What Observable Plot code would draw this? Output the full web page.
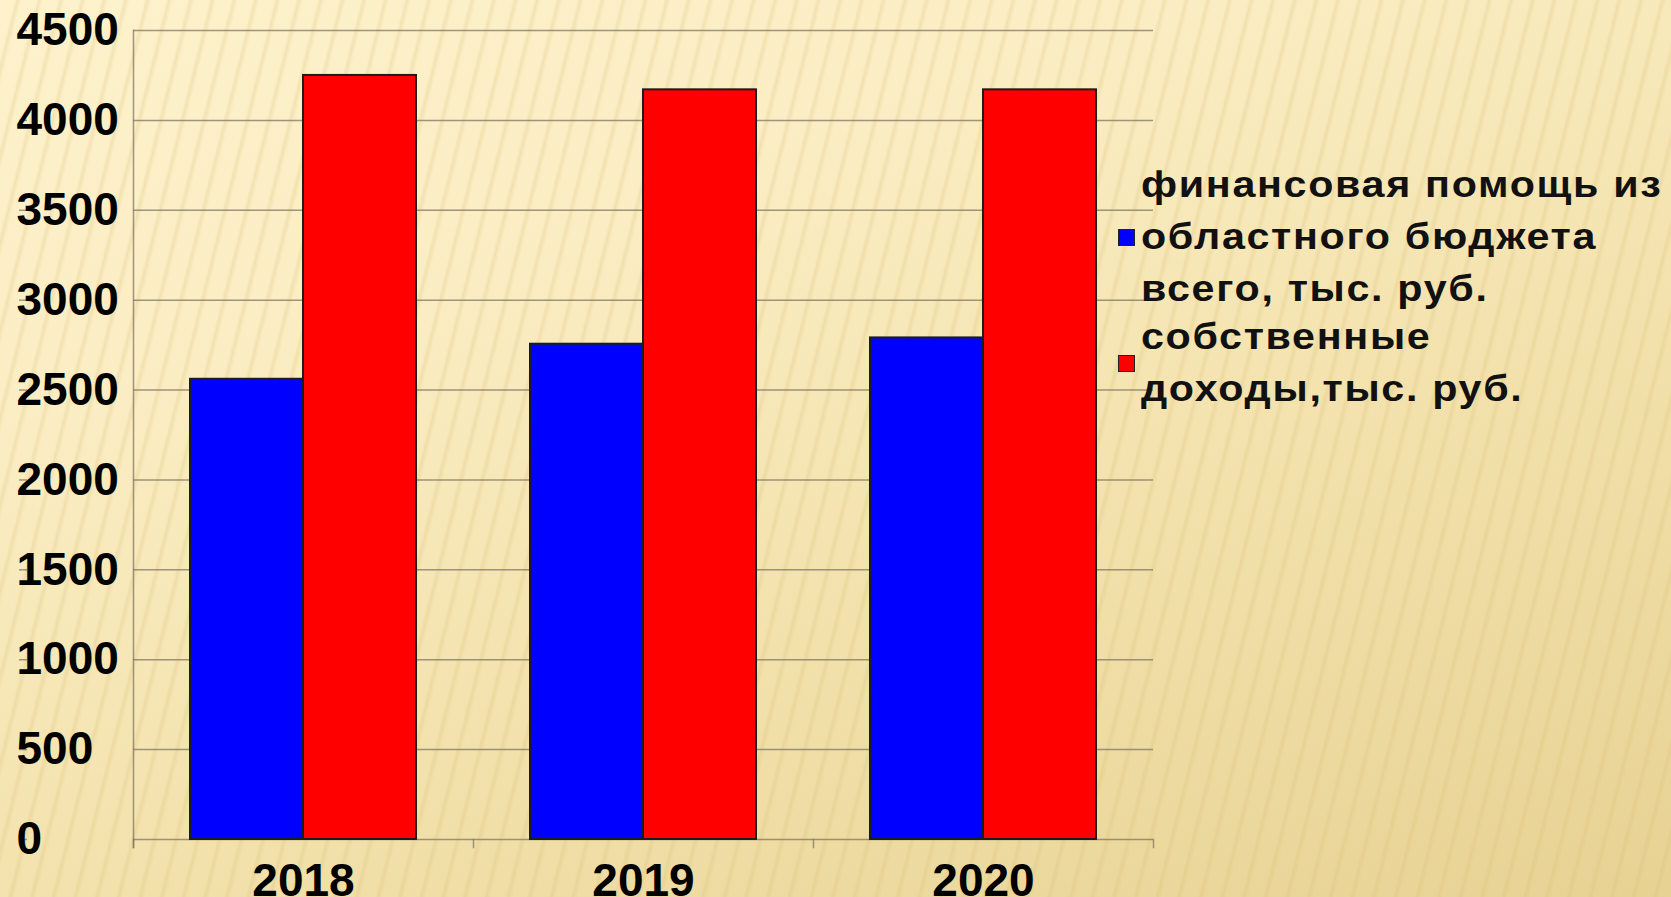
<!DOCTYPE html>
<html>
<head>
<meta charset="utf-8">
<script src="https://cdn.jsdelivr.net/npm/d3@7"></script>
<script src="https://cdn.jsdelivr.net/npm/@observablehq/plot@0.6"></script>
<style>
  html, body { margin: 0; padding: 0; }
  #stage {
    position: relative; width: 1671px; height: 897px; overflow: hidden;
    background:
      repeating-linear-gradient(104deg, rgba(255,255,255,0) 0px, rgba(255,255,255,0) 14px, rgba(214,186,110,0.24) 17px, rgba(255,255,255,0) 21px),
      linear-gradient(160deg, #fdf2cc 0%, #fbedc3 30%, #f3e2ad 60%, #e7d293 100%);
    font-family: "Liberation Sans", Arial, sans-serif;
  }
  #chart { position: absolute; left: 0; top: 0; }
  .legend-item { position: absolute; left: 1118px; display: flex; align-items: center; }
  .swatch { width: 15px; height: 15px; border: 1.5px solid #222; margin-right: 6px; flex: none; }
  .legend-text { font-size: 37px; font-weight: bold; line-height: 52px; color: #111; white-space: nowrap; letter-spacing: 1.5px; transform: scaleX(1.115); transform-origin: left center; }
</style>
</head>
<body>
<div id="stage"><div id="chart"></div></div>
<script>
const years = ["2018", "2019", "2020"];
const seriesNames = [
  "финансовая помощь из областного бюджета всего, тыс. руб.",
  "собственные доходы,тыс. руб."
];
const legendLines = [
  ["финансовая помощь из", "областного бюджета", "всего, тыс. руб."],
  ["собственные", "доходы,тыс. руб."]
];
const regionalAid = [2560, 2755, 2790];
const ownIncome = [4250, 4170, 4170];
const seriesColors = ["#0000ff", "#ff0000"];
const yTicks = [0, 500, 1000, 1500, 2000, 2500, 3000, 3500, 4000, 4500];

const data = years.flatMap((year, i) => [
  {year, series: seriesNames[0], value: regionalAid[i]},
  {year, series: seriesNames[1], value: ownIncome[i]}
]);

const lineStyle = {stroke: "#7f7762", strokeOpacity: 0.75, strokeWidth: 1.5};

const plot = Plot.plot({
  width: 1671,
  height: 897,
  marginLeft: 133,
  marginRight: 518,
  marginTop: 30,
  marginBottom: 58,
  style: {background: "transparent", fontFamily: "'Liberation Sans', Arial, sans-serif", color: "#000", overflow: "visible"},
  fx: {domain: years, padding: 0, label: null},
  x: {domain: seriesNames, paddingInner: 0, paddingOuter: 0.5, axis: null},
  y: {domain: [0, 4500], label: null},
  color: {domain: seriesNames, range: seriesColors},
  marks: [
    Plot.gridY(yTicks, lineStyle),
    Plot.frame({anchor: "left", facetAnchor: "left", ...lineStyle, insetBottom: -8}),
    Plot.frame({anchor: "left", ...lineStyle, insetTop: 809, insetBottom: -8}),
    Plot.frame({anchor: "right", facetAnchor: "right", ...lineStyle, insetTop: 809, insetBottom: -8}),
    Plot.barY(data, {fx: "year", x: "series", y: "value", fill: "series", stroke: "#1c1c1c", strokeWidth: 2}),
    Plot.axisY(yTicks, {tickSize: 8, tickPadding: 3, textAnchor: "start", dx: -106, fontSize: 46, fontWeight: "bold", ...lineStyle, fill: "#000", tickFormat: d3.format("d"), label: null}),
    Plot.axisFx({anchor: "bottom", tickSize: 0, tickPadding: 24, fontSize: 46, fontWeight: "bold", fill: "#000", label: null})
  ]
});
document.getElementById("chart").appendChild(plot);

const stage = document.getElementById("stage");
const tops = [159, 311];
legendLines.forEach((lines, i) => {
  const item = document.createElement("div");
  item.className = "legend-item";
  item.style.top = tops[i] + "px";
  const sw = document.createElement("div");
  sw.className = "swatch";
  sw.style.background = seriesColors[i];
  const txt = document.createElement("div");
  txt.className = "legend-text";
  txt.innerHTML = lines.map(l => l.replace(/&/g, "&amp;").replace(/</g, "&lt;")).join("<br>");
  item.appendChild(sw);
  item.appendChild(txt);
  stage.appendChild(item);
});
</script>
</body>
</html>
